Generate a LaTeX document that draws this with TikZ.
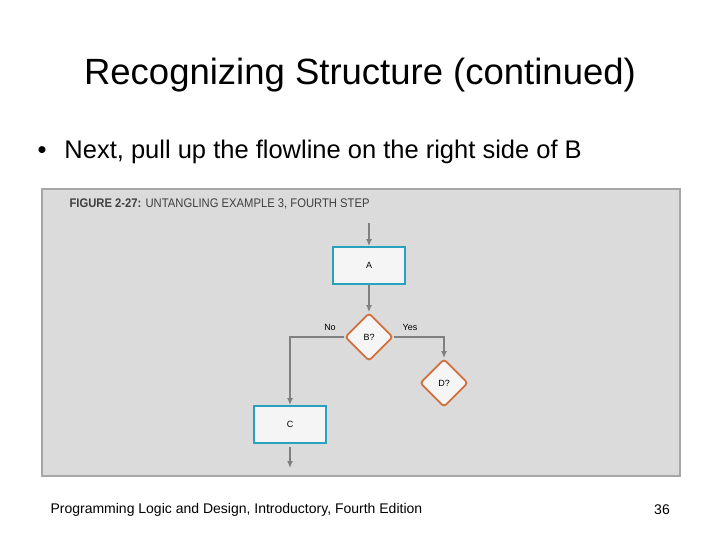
\documentclass[tikz,border=0pt]{standalone}
\usepackage{fontspec}
\setmainfont{Liberation Sans}
\usetikzlibrary{shapes.geometric,arrows.meta}
\definecolor{flow}{RGB}{128,128,128}
\definecolor{boxb}{RGB}{40,160,190}
\definecolor{dia}{RGB}{210,110,60}
\begin{document}
\begin{tikzpicture}[x=1pt,y=-1pt,
  proc/.style={draw=boxb,line width=1.8pt,fill=white!92!gray,minimum width=72pt,minimum height=37pt,font=\fontsize{9}{10}\selectfont,inner sep=0pt},
  dec/.style={diamond,draw=dia,line width=1.8pt,fill=white!92!gray,rounded corners=3pt,minimum width=48pt,minimum height=48pt,font=\fontsize{9}{10}\selectfont,inner sep=0pt},
  fl/.style={draw=flow,line width=1.4pt,-{Latex[length=7pt,width=6pt]}},
  lbl/.style={font=\fontsize{9}{10}\selectfont}]
\useasboundingbox (0,0) rectangle (720,540);
\node[font=\fontsize{36.5}{40}\selectfont] (title) at (360,75) {Recognizing Structure (continued)};
\node[anchor=west,font=\fontsize{25.5}{29}\selectfont] (bul) at (34,152) {•\hspace{18pt}Next, pull up the flowline on the right side of B};
\node[draw=gray!70,line width=1.2pt,fill=gray!28,minimum width=638pt,minimum height=287pt,inner sep=0pt] (panel) at (361,332.5) {};
\node[anchor=west,font=\fontsize{12.5}{14}\selectfont\addfontfeatures{FakeStretch=0.9}\color{black!75}] (cap) at (66,204) {\textbf{FIGURE 2-27:} UNTANGLING EXAMPLE 3, FOURTH STEP};
\coordinate (top) at (369,223);
\node[proc] (A) at (369,265.5) {A};
\node[dec] (B) at (369,337) {B?};
\node[dec] (D) at (444,383) {D?};
\node[proc] (C) at (290,424.5) {C};
\coordinate (end) at (290,468);
\draw[fl] (top) -- (A.north);
\draw[fl] (A.south) -- (B.north);
\draw[fl] (B.west) -| (C.north);
\draw[fl] (B.east) -| (D.north);
\draw[fl] (C.south) ++(0,3) -- (end);
\node[lbl] (no) at (330,327) {No};
\node[lbl] (yes) at (410,327) {Yes};
\node[anchor=west,font=\fontsize{14}{16}\selectfont] (foot) at (47,510) {Programming Logic and Design, Introductory, Fourth Edition};
\node[font=\fontsize{14}{16}\selectfont] (pg) at (662,510) {36};
\end{tikzpicture}
\end{document}
